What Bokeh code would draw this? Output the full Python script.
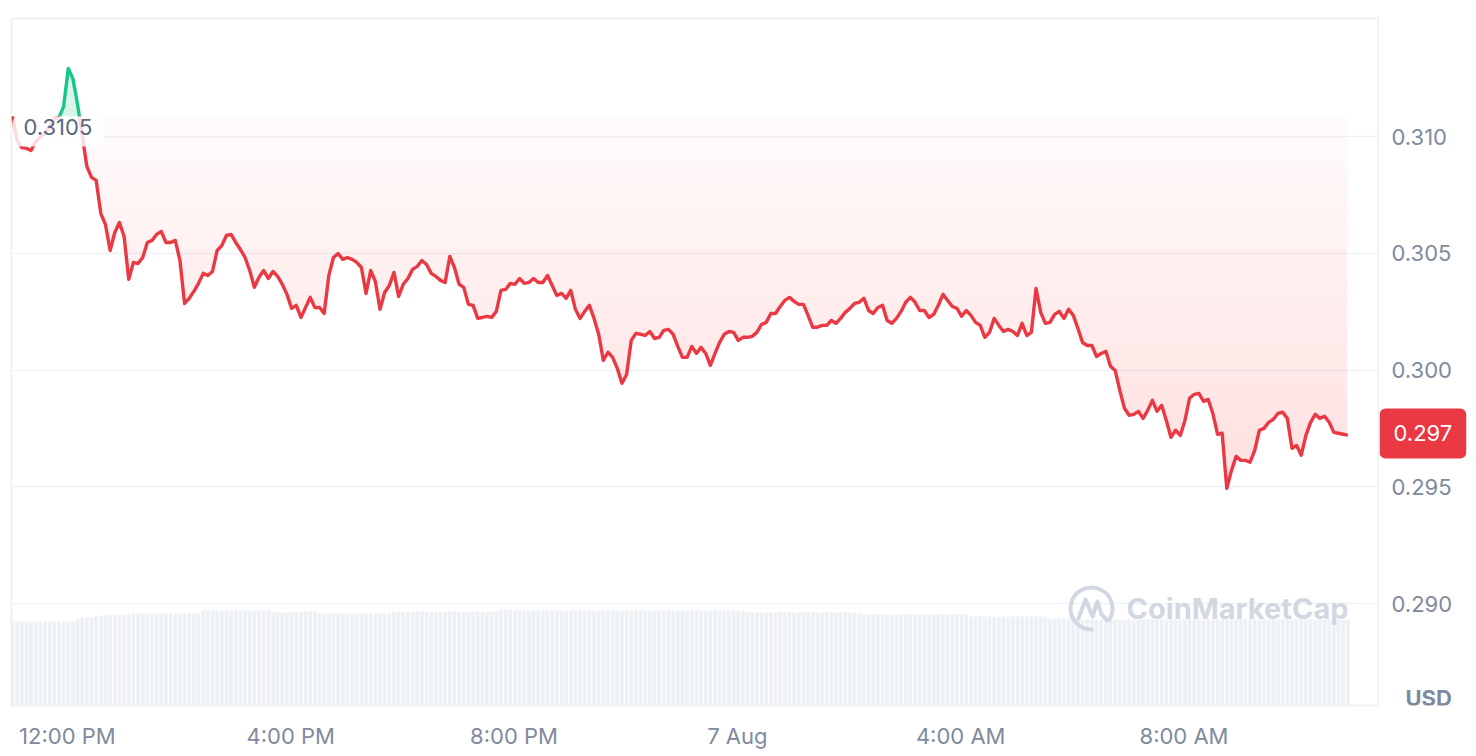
import numpy as np
import pandas as pd
from bokeh.plotting import figure
from bokeh.layouts import row
from bokeh.models import Range1d, FixedTicker, Label, ColumnDataSource
from bokeh.core.properties import value
from bokeh.embed import file_html
from bokeh.resources import INLINE

# ---------------- data ----------------
start_time = "2024-08-06 11:01"
step_minutes = 5

price = [
    0.31086, 0.30983, 0.30953, 0.30949, 0.30940, 0.30979, 0.30996, 0.31013, 0.31043, 0.31077,
    0.31081, 0.31128, 0.31291, 0.31248, 0.31137, 0.31004, 0.30872, 0.30825, 0.30812, 0.30670,
    0.30623, 0.30512, 0.30589, 0.30632, 0.30572, 0.30388, 0.30461, 0.30456, 0.30482, 0.30546,
    0.30555, 0.30581, 0.30593, 0.30546, 0.30546, 0.30555, 0.30469, 0.30285, 0.30307, 0.30337,
    0.30371, 0.30414, 0.30405, 0.30422, 0.30512, 0.30533, 0.30576, 0.30581, 0.30546, 0.30516,
    0.30482, 0.30426, 0.30354, 0.30397, 0.30426, 0.30392, 0.30422, 0.30401, 0.30367, 0.30324,
    0.30264, 0.30277, 0.30225, 0.30268, 0.30311, 0.30268, 0.30268, 0.30242, 0.30405, 0.30482,
    0.30499, 0.30474, 0.30482, 0.30474, 0.30461, 0.30439, 0.30328, 0.30426, 0.30379, 0.30260,
    0.30332, 0.30362, 0.30418, 0.30315, 0.30367, 0.30392, 0.30431, 0.30444, 0.30469, 0.30452,
    0.30414, 0.30401, 0.30384, 0.30375, 0.30486, 0.30439, 0.30367, 0.30354, 0.30281, 0.30277,
    0.30221, 0.30225, 0.30230, 0.30225, 0.30251, 0.30341, 0.30345, 0.30371, 0.30367, 0.30392,
    0.30371, 0.30375, 0.30392, 0.30375, 0.30375, 0.30405, 0.30362, 0.30319, 0.30328, 0.30307,
    0.30341, 0.30260, 0.30221, 0.30251, 0.30277, 0.30221, 0.30153, 0.30041, 0.30076, 0.30054,
    0.30007, 0.29943, 0.29981, 0.30127, 0.30157, 0.30153, 0.30148, 0.30165, 0.30135, 0.30140,
    0.30170, 0.30174, 0.30153, 0.30101, 0.30054, 0.30054, 0.30101, 0.30071, 0.30097, 0.30071,
    0.30020, 0.30071, 0.30118, 0.30153, 0.30165, 0.30161, 0.30127, 0.30140, 0.30140, 0.30144,
    0.30161, 0.30195, 0.30204, 0.30242, 0.30242, 0.30272, 0.30298, 0.30311, 0.30294, 0.30281,
    0.30281, 0.30234, 0.30183, 0.30183, 0.30191, 0.30191, 0.30212, 0.30200, 0.30221, 0.30247,
    0.30264, 0.30285, 0.30290, 0.30307, 0.30255, 0.30242, 0.30268, 0.30277, 0.30212, 0.30200,
    0.30221, 0.30251, 0.30290, 0.30311, 0.30290, 0.30255, 0.30255, 0.30225, 0.30238, 0.30277,
    0.30324, 0.30298, 0.30272, 0.30264, 0.30230, 0.30255, 0.30234, 0.30204, 0.30191, 0.30140,
    0.30161, 0.30221, 0.30191, 0.30165, 0.30174, 0.30165, 0.30148, 0.30200, 0.30148, 0.30161,
    0.30349, 0.30247, 0.30200, 0.30204, 0.30238, 0.30251, 0.30221, 0.30260, 0.30234, 0.30178,
    0.30118, 0.30105, 0.30105, 0.30058, 0.30071, 0.30080, 0.30016, 0.29998, 0.29913, 0.29836,
    0.29806, 0.29810, 0.29823, 0.29793, 0.29827, 0.29870, 0.29823, 0.29849, 0.29784, 0.29712,
    0.29742, 0.29720, 0.29784, 0.29879, 0.29896, 0.29900, 0.29866, 0.29874, 0.29814, 0.29725,
    0.29729, 0.29493, 0.29570, 0.29630, 0.29613, 0.29613, 0.29605, 0.29656, 0.29742, 0.29750,
    0.29776, 0.29789, 0.29814, 0.29819, 0.29793, 0.29665, 0.29677, 0.29635, 0.29720, 0.29776,
    0.29810, 0.29793, 0.29802, 0.29776, 0.29733, 0.29729, 0.29725, 0.29720,
]

volume = [  # 24h volume, USD millions
    48.8, 48.9, 48.9, 48.9, 48.8, 48.9, 48.9, 48.9, 48.9, 49.0, 48.9, 48.9, 49.0, 49.1,
    50.1, 51.0, 51.2, 51.3,
    52.3, 52.4, 52.4, 52.5, 52.4, 52.6, 52.7,
    53.5, 53.6, 53.6, 53.6, 53.7, 53.6, 53.6, 53.6, 53.5, 53.6, 53.6, 53.6, 53.6, 53.7, 53.6, 53.6,
    55.2, 55.3, 55.3, 55.3, 55.3, 55.4, 55.3, 55.3, 55.3, 55.3, 55.3, 55.2, 55.3, 55.3, 55.3,
    54.1, 54.1, 54.0, 54.1, 54.2, 54.7, 54.7, 54.8, 54.7, 54.6,
    53.6, 53.6, 53.6, 53.6, 53.5, 53.6, 53.6, 53.6, 53.6, 53.6, 53.7, 53.6, 53.6, 53.6, 53.6, 53.7,
    54.6, 54.7, 54.7, 54.7, 54.7, 54.8, 54.7, 54.7, 54.7, 54.7, 54.7, 54.6, 54.7, 54.7, 54.7, 54.7,
    54.8, 54.7, 54.7, 54.7, 54.7, 54.7, 54.8,
    55.9, 56.0, 55.9,
    55.3, 55.3, 55.2, 55.3, 55.3, 55.3, 55.4, 55.3, 55.3, 55.3,
    55.3, 55.3, 55.3, 55.2, 55.3, 55.3, 55.3, 55.3, 55.4, 55.3,
    55.3, 55.3, 55.3, 55.3, 55.3, 55.2, 55.3, 55.3, 55.3, 55.3,
    55.4, 55.3, 55.3, 55.3, 55.3, 55.3, 55.3, 55.2, 55.3, 55.3,
    55.3, 55.3, 55.3, 55.4, 55.3, 55.3, 55.3, 55.3, 55.3, 55.2,
    54.1, 54.1, 54.2, 54.1, 54.1, 54.1, 54.0, 54.1, 54.1, 54.1, 54.2, 54.1, 54.1,
    54.1, 54.1, 54.0, 54.1, 54.1, 54.1, 54.1, 54.2, 54.1, 54.1, 54.1, 54.0,
    53.0, 53.0, 53.1, 53.0, 53.0, 53.0, 52.9, 53.0, 53.0, 53.0, 53.1, 53.0,
    53.0, 53.0, 53.0, 52.9, 53.0, 53.0, 53.0, 53.1, 53.0, 53.0, 53.0,
    51.8, 51.8, 51.9, 51.8, 51.8, 51.8, 51.7, 51.8, 51.8, 51.8, 51.9, 51.8, 51.8, 51.8, 51.8, 51.7, 51.8,
    50.7, 50.7, 50.8, 50.7, 50.6,
    50.1, 50.1, 50.1, 50.2, 50.1, 50.1, 50.1, 50.0, 50.1, 50.1,
    50.1, 50.1, 50.2, 50.1, 50.1, 50.1, 50.1, 50.1, 50.0, 50.1,
    50.1, 50.1, 50.1, 50.1, 50.2, 50.1, 50.1, 50.1, 50.1, 50.1,
    50.0, 50.1, 50.1, 50.1, 50.1, 50.1, 50.2, 50.1, 50.1, 50.1,
    50.1, 50.1, 50.0, 50.1, 50.1, 50.1, 50.1, 50.1, 50.2, 50.1,
    50.1, 50.1, 50.1, 50.1, 50.0, 50.1, 50.1, 50.1, 50.1, 50.1,
]

baseline_label = "0.3105"
y_ticks = [0.290, 0.295, 0.300, 0.305, 0.310]
x_tick_times = ["2024-08-06 12:00", "2024-08-06 16:00", "2024-08-06 20:00",
                "2024-08-07 00:00", "2024-08-07 04:00", "2024-08-07 08:00"]
x_tick_labels = ["12:00 PM", "4:00 PM", "8:00 PM", "7 Aug", "4:00 AM", "8:00 AM"]
unit_label = "USD"
watermark_text = "CoinMarketCap"

# ---------------- styling ----------------
RED = "#ea3943"
GREEN = "#16c784"
AXIS_TEXT = "#808a9d"
FRAME = "#eff2f5"
FONT = "Inter"
FS = "22px"

n = len(price)
t_ms = (pd.Timestamp(start_time) + pd.to_timedelta(np.arange(n) * step_minutes, unit="m"))
t_ms = t_ms.values.astype("datetime64[ms]").astype(np.int64).astype(float)
p_arr = np.array(price)
base = price[0]

x_start = t_ms[0] - 60_000
x_end = t_ms[-1] + 33 * 60_000
y_start, y_end = 0.285632, 0.315054
y_range = Range1d(y_start, y_end)

H = 753
TOP, BOTTOM = 18, 48
p = figure(width=1379, height=H, x_axis_type="datetime", y_axis_location=None,
           x_range=Range1d(x_start, x_end), y_range=y_range,
           output_backend="svg", toolbar_location=None,
           min_border_left=11, min_border_right=1, min_border_top=TOP, min_border_bottom=BOTTOM,
           background_fill_color="white", border_fill_color="white",
           outline_line_color=FRAME, outline_line_width=2)

# volume bars
p.extra_y_ranges = {"vol": Range1d(0, 400)}
nv = min(len(volume), n)
p.vbar(x=t_ms[:nv], top=volume[:nv], bottom=0, width=step_minutes * 60_000 * 0.8,
       y_range_name="vol", fill_color="#edf0f4", line_color=None)

# insert baseline crossings for colouring
xa, ya = [t_ms[0]], [price[0]]
for i in range(1, n):
    y0, y1 = price[i - 1], price[i]
    if (y0 - base) * (y1 - base) < 0:
        f = (base - y0) / (y1 - y0)
        xa.append(t_ms[i - 1] + f * (t_ms[i] - t_ms[i - 1]))
        ya.append(base)
    xa.append(t_ms[i])
    ya.append(price[i])
xa = np.array(xa)
ya = np.array(ya)

# gradient red fill (stacked translucent layers)
lowest = p_arr.min()
layers = 28
thresholds = np.linspace(base, lowest, layers, endpoint=False)
a_layer = 1 - (1 - 0.15) ** (1 / layers)
for k, th in enumerate(thresholds):
    p.varea(x=xa, y1=np.minimum(ya, th), y2=th, fill_color=RED,
            fill_alpha=(0.02 if k == 0 else a_layer))

# green fill above baseline
p.varea(x=xa, y1=base, y2=np.maximum(ya, base), fill_color=GREEN, fill_alpha=0.16)

red_y = np.where(ya <= base + 1e-12, ya, np.nan)
green_y = np.where(ya >= base - 1e-12, ya, np.nan)
p.line(xa, red_y, line_color=RED, line_width=3.4, line_join="round")
p.line(xa, green_y, line_color=GREEN, line_width=3.4, line_join="round")

# x axis
tick_ms = pd.to_datetime(x_tick_times).values.astype("datetime64[ms]").astype(np.int64).astype(float)
ax = p.xaxis[0]
ax.ticker = FixedTicker(ticks=list(tick_ms))
ax.major_label_overrides = {float(m): lab for m, lab in zip(tick_ms, x_tick_labels)}
ax.axis_line_color = None
ax.major_tick_line_color = None
ax.minor_tick_line_color = None
ax.major_label_text_font = FONT
ax.major_label_text_font_size = FS
ax.major_label_text_color = AXIS_TEXT
ax.major_label_standoff = 11
p.xgrid.visible = False
p.ygrid.ticker = FixedTicker(ticks=y_ticks)
p.ygrid.grid_line_color = FRAME
p.ygrid.grid_line_width = 1.5

# open price label
p.add_layout(Label(x=t_ms[0], y=base, text=baseline_label, text_align="left", text_baseline="top",
                   text_font=FONT, text_font_size=FS, text_color="#58667e",
                   background_fill_color="white", background_fill_alpha=0.82,
                   border_radius=6, padding=dict(left=11, right=11, top=3, bottom=11)))

# watermark
WM = "#d2d8e2"
px_per_ms = 1367 / (x_end - x_start)
px_per_val = 687 / (y_end - y_start)
wx = x_end - 287 / px_per_ms
wy = y_start + 97 / px_per_val
p.add_layout(Label(x=x_end, y=wy, x_offset=-30, text=watermark_text, text_align="right",
                   text_baseline="middle", text_font=FONT, text_font_size="29px",
                   text_font_style="bold", text_color=WM))
p.arc(x=[wx], y=[wy], radius=21, radius_units="screen", start_angle=np.deg2rad(-35),
      end_angle=np.deg2rad(275), line_color=WM, line_width=4)
m_dx = np.array([-13, -6, 1, 6, 10, 16])
m_dy = np.array([10, -9, 8, -7, 6, 12])
p.line(x=wx + m_dx / px_per_ms, y=wy - m_dy / px_per_val, line_color=WM, line_width=4,
       line_join="round", line_cap="round")

# ---------------- right price scale panel ----------------
W2 = 89
q = figure(width=W2, height=H, x_range=Range1d(0, W2), y_range=y_range,
           x_axis_location=None, y_axis_location=None,
           output_backend="svg", toolbar_location=None,
           min_border_left=0, min_border_right=0, min_border_top=TOP, min_border_bottom=BOTTOM,
           background_fill_color="white", border_fill_color="white", outline_line_color=None)
q.grid.visible = False
tick_src = ColumnDataSource(dict(x=[12] * len(y_ticks), y=y_ticks,
                                 text=[f"{v:.3f}" for v in y_ticks]))
q.text(x="x", y="y", text="text", source=tick_src, text_align="left", text_baseline="middle",
       text_font=value(FONT), text_font_size=value(FS), text_color=AXIS_TEXT)
q.add_layout(Label(x=0, y=price[-1], y_offset=2, text=f"{price[-1]:.3f}", text_align="left",
                   text_baseline="middle", text_font=FONT, text_font_size=FS,
                   text_color="white", background_fill_color=RED, border_radius=6,
                   padding=dict(left=14, right=14, top=17, bottom=17)))
q.add_layout(Label(x=26, y=y_start, y_offset=8, text=unit_label,
                   text_align="left", text_baseline="middle", text_font=FONT,
                   text_font_size=FS, text_font_style="bold", text_color=AXIS_TEXT))

layout = row(p, q, spacing=0)
open("out.html", "w").write(file_html(layout, INLINE))
